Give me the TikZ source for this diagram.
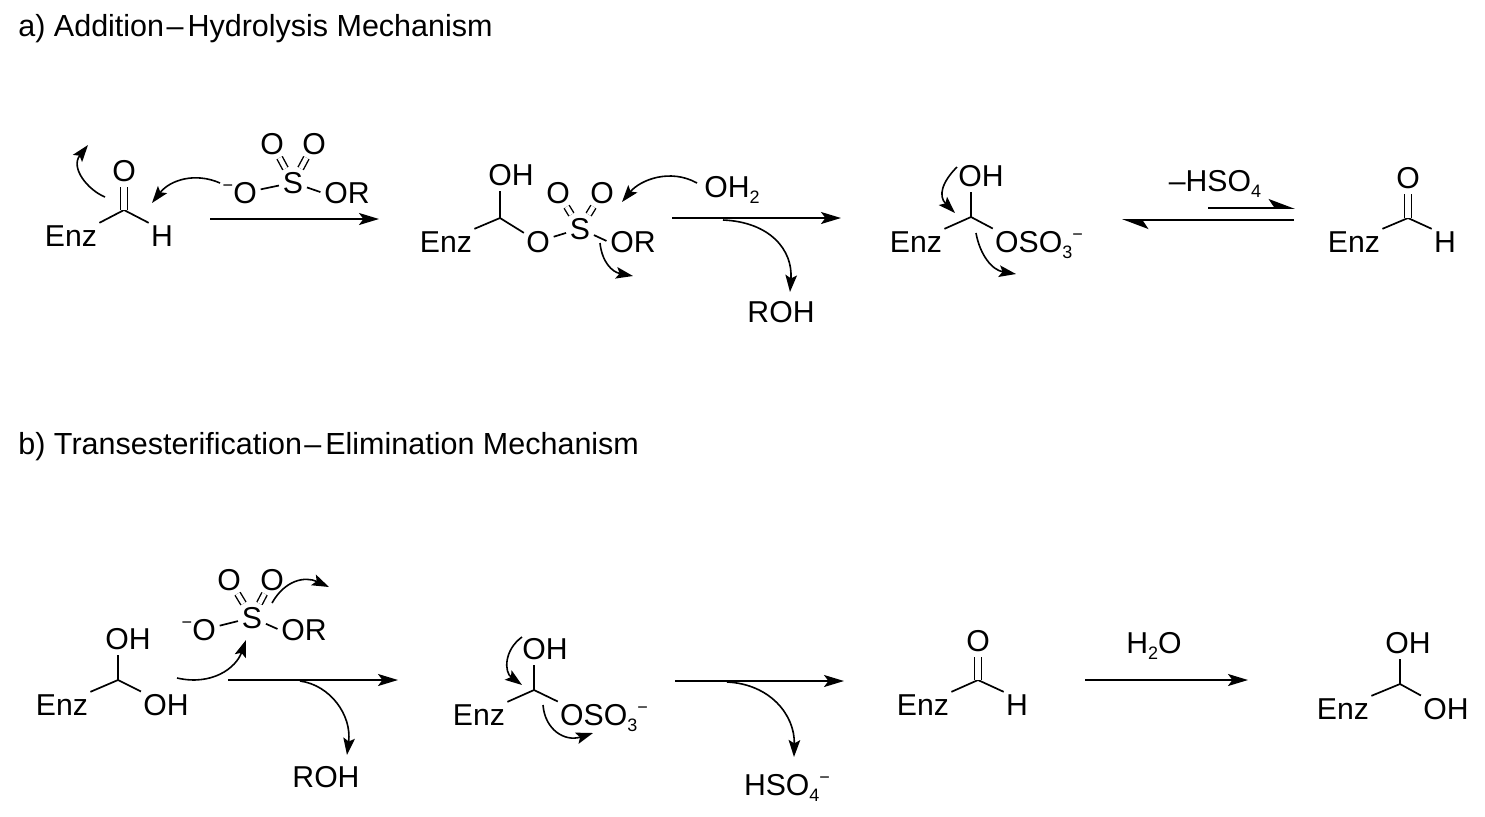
\documentclass[tikz,border=0pt]{standalone}
\usepackage{fontspec}
\setmainfont{Liberation Sans}
\usetikzlibrary{arrows.meta}
\newcommand{\subs}[1]{\smash{\raisebox{-3pt}{\fontsize{9}{10}\selectfont #1}}}
\newcommand{\sups}[1]{\smash{\raisebox{6pt}{\fontsize{9}{10}\selectfont #1}}}
\newcommand{\ndash}{\hspace{1.2pt}–\hspace{2pt}}
\tikzset{
  atom/.style={anchor=base,inner sep=1pt,font=\fontsize{15.1}{17}\selectfont,text=black},
  heading/.style={anchor=base west,inner sep=0pt,font=\fontsize{15.25}{17}\selectfont,text=black},
  bond/.style={line width=0.85pt,line cap=butt},
  sbond/.style={line width=0.85pt,shorten >=0.8pt,shorten <=0.8pt},
  vbond/.style={line width=0.85pt,shorten >=1.5pt},
  dbond/.style={line width=0.7pt,double,double distance=2.6pt,shorten >=1.5pt},
  sdbond/.style={line width=0.7pt,double,double distance=2.2pt,shorten >=0.6pt,shorten <=0.6pt},
  rxn/.style={line width=0.9pt,-{Stealth[length=10pt,width=6pt,inset=2.2pt]}},
  half/.style={line width=0.9pt,-{Stealth[harpoon,length=12pt,width=9pt,inset=3pt]}},
  curly/.style={line width=0.8pt,-{Stealth[length=8.5pt,width=5.8pt,inset=1.7pt]}},
}
\begin{document}
\begin{tikzpicture}[x=0.5pt,y=-0.5pt]
\useasboundingbox (0,0) rectangle (1485,816);
\node[heading] (ta) at (18,36) {a) Addition\ndash Hydrolysis Mechanism};
\node[heading] (tb) at (18,454) {b) Transesterification\ndash Elimination Mechanism};

% --- row a, molecule 1
\coordinate (c1) at (124,210);
\node[atom] (enz1) at (71,246) {Enz};
\node[atom] (h1) at (162,246) {H};
\node[atom] (o1) at (124,181) {O};
\draw[bond] (c1) -- (enz1.north east);
\draw[bond] (c1) -- (h1.north west);
\draw[dbond] (c1) -- (o1.south);
% sulfate
\node[atom] (so1) at (245,203) {\llap{\sups{−}}O};
\node[atom] (s1) at (293,193) {S};
\node[atom] (or1) at (347,203) {OR};
\node[atom] (o1a) at (272,154) {O};
\node[atom] (o1b) at (314,154) {O};
\draw[sbond] (so1) -- (s1);
\draw[sbond] (s1) -- (or1.west);
\draw[sdbond] (s1) -- (o1a);
\draw[sdbond] (s1) -- (o1b);
% arrows
\coordinate (a1s) at (105,197); \coordinate (a1e) at (88,145);
\draw[curly] (a1s) .. controls (88,190) and (70,168) .. (a1e);
\coordinate (a2s) at (220,183); \coordinate (a2e) at (152,203);
\draw[curly] (a2s) .. controls (195,172) and (170,180) .. (a2e);
\coordinate (r1s) at (210,219); \coordinate (r1e) at (379,219);
\draw[rxn] (r1s) -- (r1e);

% --- row a, molecule 2
\coordinate (c2) at (500,218);
\node[atom] (enz2) at (446,252) {Enz};
\node[atom] (oh2) at (511,185) {OH};
\node[atom] (o2) at (538,252) {O};
\node[atom] (s2) at (580,239) {S};
\node[atom] (or2) at (633,252) {OR};
\node[atom] (o2a) at (558,203) {O};
\node[atom] (o2b) at (602,203) {O};
\node[atom] (w2) at (732,197) {OH\subs{2}};
\node[atom] (roh1) at (781,322) {ROH};
\draw[bond] (c2) -- (enz2.north east);
\draw[vbond] (c2) -- (c2 |- oh2.south);
\draw[bond] (c2) -- (o2);
\draw[sbond] (o2) -- (s2);
\draw[sbond] (s2) -- (or2.west);
\draw[sdbond] (s2) -- (o2a);
\draw[sdbond] (s2) -- (o2b);
\coordinate (a3s) at (697,183); \coordinate (a3e) at (622,202);
\draw[curly] (a3s) .. controls (670,168) and (640,180) .. (a3e);
\coordinate (a4s) at (600,243); \coordinate (a4e) at (633,276);
\draw[curly] (a4s) .. controls (602,262) and (612,272) .. (a4e);
\coordinate (r2s) at (672,218); \coordinate (r2e) at (841,218);
\draw[rxn] (r2s) -- (r2e);
\coordinate (b1s) at (723,220); \coordinate (b1e) at (790,292);
\draw[curly] (b1s) .. controls (770,222) and (793,250) .. (b1e);

% --- row a, molecule 3
\coordinate (c3) at (971,217);
\node[atom] (enz3) at (916,252) {Enz};
\node[atom] (oh3) at (981,186) {OH};
\node[atom] (os3) at (1039,252) {OSO\subs{3}\sups{−}};
\draw[bond] (c3) -- (enz3.north east);
\draw[vbond] (c3) -- (c3 |- oh3.south);
\draw[bond] (c3) -- (os3.north west);
\coordinate (a5s) at (957,167); \coordinate (a5e) at (955,213);
\draw[curly] (a5s) .. controls (942,182) and (938,196) .. (a5e);
\coordinate (a6s) at (976,233); \coordinate (a6e) at (1016,274);
\draw[curly] (a6s) .. controls (980,255) and (992,270) .. (a6e);

% equilibrium
\node[atom] (hso1) at (1215,191) {–HSO\subs{4}};
\coordinate (e1s) at (1208,208); \coordinate (e1e) at (1295,208);
\coordinate (e2s) at (1294,220); \coordinate (e2e) at (1122,220);
\draw[half] (e1s) -- (e1e);
\draw[half] (e2s) -- (e2e);

% --- row a, molecule 4
\coordinate (c4) at (1408,218);
\node[atom] (enz4) at (1354,252) {Enz};
\node[atom] (h4) at (1445,252) {H};
\node[atom] (o4) at (1408,188) {O};
\draw[bond] (c4) -- (enz4.north east);
\draw[bond] (c4) -- (h4.north west);
\draw[dbond] (c4) -- (o4.south);

% --- row b, molecule 1
\coordinate (c5) at (118,680);
\node[atom] (enz5) at (62,715) {Enz};
\node[atom] (oh5a) at (128,649) {OH};
\node[atom] (oh5b) at (166,715) {OH};
\draw[bond] (c5) -- (enz5.north east);
\draw[vbond] (c5) -- (c5 |- oh5a.south);
\draw[bond] (c5) -- (oh5b.north west);
\node[atom] (so5) at (204,640) {\llap{\sups{−}}O};
\node[atom] (s5) at (252,628) {S};
\node[atom] (or5) at (304,640) {OR};
\node[atom] (o5a) at (229,590) {O};
\node[atom] (o5b) at (272,590) {O};
\draw[sbond] (so5) -- (s5);
\draw[sbond] (s5) -- (or5.west);
\draw[sdbond] (s5) -- (o5a);
\draw[sdbond] (s5) -- (o5b);
\coordinate (a7s) at (177,678); \coordinate (a7e) at (246,640);
\draw[curly] (a7s) .. controls (212,686) and (236,668) .. (a7e);
\coordinate (a8s) at (272,603); \coordinate (a8e) at (329,587);
\draw[curly] (a8s) .. controls (285,580) and (305,576) .. (a8e);
\coordinate (r3s) at (228,680); \coordinate (r3e) at (398,680);
\draw[rxn] (r3s) -- (r3e);
\coordinate (b2s) at (300,681); \coordinate (b2e) at (347,755);
\draw[curly] (b2s) .. controls (330,685) and (352,715) .. (b2e);
\node[atom] (roh2) at (326,787) {ROH};

% --- row b, molecule 2
\coordinate (c6) at (534,690);
\node[atom] (enz6) at (479,725) {Enz};
\node[atom] (oh6) at (545,659) {OH};
\node[atom] (os6) at (604,725) {OSO\subs{3}\sups{−}};
\draw[bond] (c6) -- (enz6.north east);
\draw[vbond] (c6) -- (c6 |- oh6.south);
\draw[bond] (c6) -- (os6.north west);
\coordinate (a9s) at (522,637); \coordinate (a9e) at (522,685);
\draw[curly] (a9s) .. controls (504,650) and (504,672) .. (a9e);
\coordinate (a10s) at (543,705); \coordinate (a10e) at (593,733);
\draw[curly] (a10s) .. controls (545,730) and (565,742) .. (a10e);
\coordinate (r4s) at (675,681); \coordinate (r4e) at (844,681);
\draw[rxn] (r4s) -- (r4e);
\coordinate (b3s) at (727,682); \coordinate (b3e) at (794,757);
\draw[curly] (b3s) .. controls (770,684) and (795,715) .. (b3e);
\node[atom] (hso2) at (787,795) {HSO\subs{4}\sups{−}};

% --- row b, molecule 3
\coordinate (c7) at (978,680);
\node[atom] (enz7) at (923,715) {Enz};
\node[atom] (h7) at (1017,715) {H};
\node[atom] (o7) at (978,651) {O};
\draw[bond] (c7) -- (enz7.north east);
\draw[bond] (c7) -- (h7.north west);
\draw[dbond] (c7) -- (o7.south);
\node[atom] (w7) at (1154,653) {H\subs{2}O};
\coordinate (r5s) at (1085,680); \coordinate (r5e) at (1248,680);
\draw[rxn] (r5s) -- (r5e);

% --- row b, molecule 4
\coordinate (c8) at (1400,684);
\node[atom] (enz8) at (1343,719) {Enz};
\node[atom] (oh8a) at (1408,653) {OH};
\node[atom] (oh8b) at (1446,719) {OH};
\draw[bond] (c8) -- (enz8.north east);
\draw[vbond] (c8) -- (c8 |- oh8a.south);
\draw[bond] (c8) -- (oh8b.north west);
\end{tikzpicture}
\end{document}
